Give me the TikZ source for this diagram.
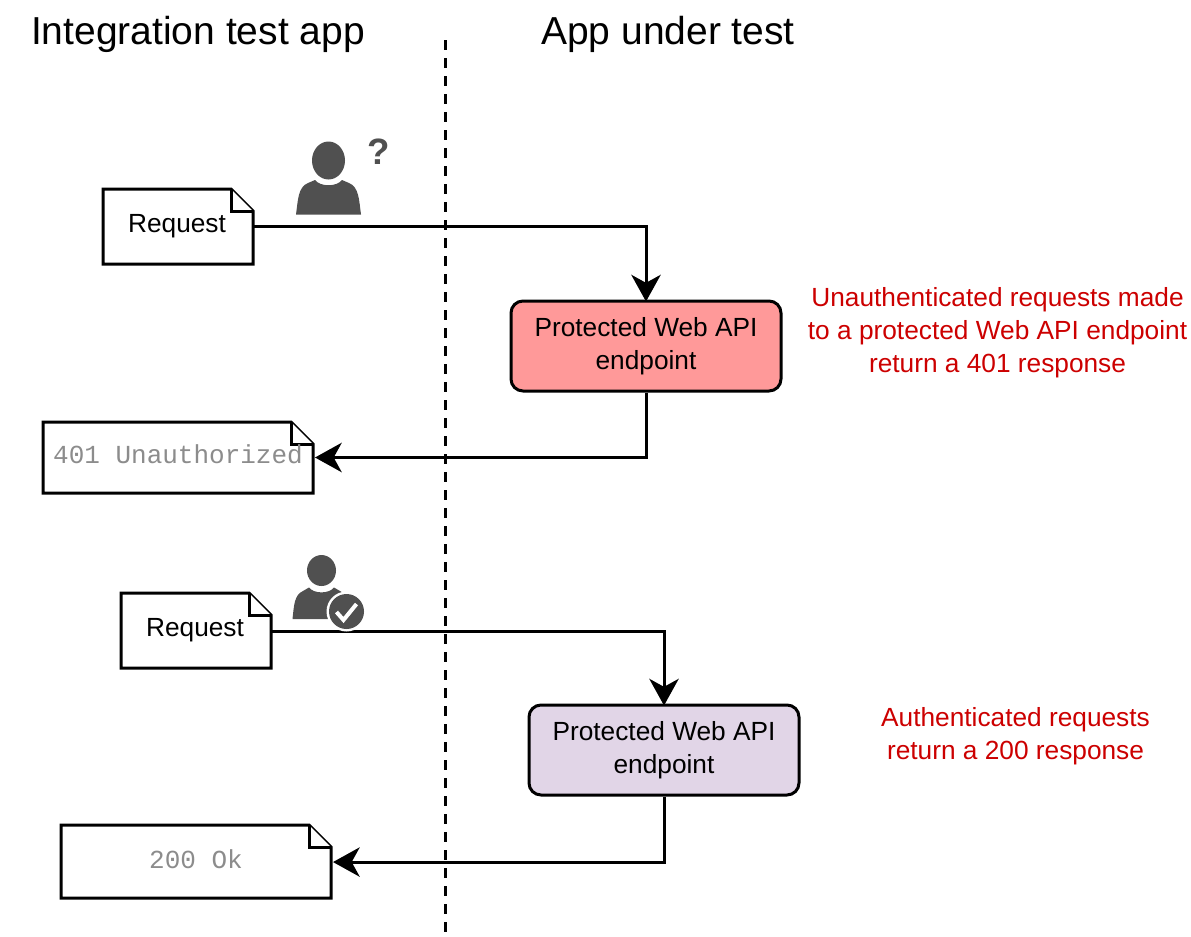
\documentclass[tikz,border=0pt]{standalone}
\usepackage{fontspec}
\setmainfont{Liberation Sans}
\newfontfamily\monof{Liberation Mono}
\usetikzlibrary{arrows.meta}
\definecolor{noteRed}{HTML}{CC0000}
\definecolor{iconGrey}{HTML}{505050}
\definecolor{monoGrey}{HTML}{8C8C8C}
\definecolor{pinkFill}{HTML}{FF9999}
\definecolor{lilacFill}{HTML}{E1D5E7}
\tikzset{
  x=0.75pt,y=-0.75pt,
  txt/.style={font=\fontsize{19.7}{24.75}\selectfont,align=center,inner sep=0pt,text=black},
  heading/.style={font=\fontsize{29.25}{34}\selectfont,inner sep=0pt,text=black},
  note/.style={font=\fontsize{19.7}{24.75}\selectfont,align=center,inner sep=0pt,text=noteRed},
  mono/.style={font=\monof\fontsize{19.5}{24.75}\selectfont,text=monoGrey},
  foldline/.style={draw=black,line width=2.25pt,line join=miter,fill=white},
  endpoint/.style={rectangle,draw=black,line width=2.25pt,rounded corners=9pt,
     minimum width=202.5pt,minimum height=67.5pt,inner sep=0pt,
     font=\fontsize{19.7}{24.75}\selectfont,align=center},
  conn/.style={draw=black,line width=2.25pt,shorten >=-1.5pt,-{Stealth[length=20pt,width=22pt,inset=6pt]}},
  connback/.style={conn,shorten >=1.5pt},
  divider/.style={draw=black,line width=2.25pt,dash pattern=on 7.5pt off 6pt},
}
\newcommand{\docshape}[5]{%
  % left top right bottom name
  \draw[foldline] (#1,#2) -- (#3-22,#2) -- (#3,#2+22) -- (#3,#4) -- (#1,#4) -- cycle;
  \draw[foldline] (#3-22,#2) -- (#3-22,#2+22) -- (#3,#2+22);
  \coordinate (#5) at ({(#1+#3)/2},{(#2+#4)/2});
  \coordinate (#5e) at (#3,{(#2+#4)/2});
}
\begin{document}
\begin{tikzpicture}
\useasboundingbox (0,0) rectangle (1191,936);
\node[heading] (h1) at (198,34) {Integration test app};
\node[heading] (h2) at (668,34) {App under test};
\coordinate (divtop) at (445,40);
\coordinate (divbot) at (445,936);
\draw[divider] (divtop) -- (divbot);

\docshape{103}{189}{253}{264}{reqa}
\docshape{43}{422}{313}{493}{resa}
\docshape{121}{593}{271}{668}{reqb}
\docshape{61}{825}{331}{898}{resb}
\node[txt] (reqatxt) at (177,226) {Request};
\node[mono] (resatxt) at (178,454.5) {401 Unauthorized};
\node[txt] (reqbtxt) at (195,630) {Request};
\node[mono] (resbtxt) at (196,859) {200 Ok};

\node[endpoint,fill=pinkFill] (epa) at (646,346) {Protected Web API\\endpoint};
\node[endpoint,fill=lilacFill] (epb) at (664,750) {Protected Web API\\endpoint};

\draw[conn] (reqae) -| (epa.north);
\draw[connback] (epa.south) |- (resae);
\draw[conn] ([yshift=-0.4pt]reqbe) -| (epb.north);
\draw[connback] (epb.south) |- ([yshift=-0.4pt]resbe);

\node[note] (noa) at (997.5,333) {Unauthenticated requests made\\to a protected Web API endpoint\\return a 401 response};
\node[note] (nob) at (1015.5,736.5) {Authenticated requests\\return a 200 response};

% person with question mark
\fill[iconGrey] (328.5,160.5) ellipse [x radius=16.5,y radius=19];
\fill[iconGrey] (296,214.5) .. controls (298,200) and (298,187) .. (308,183)
  -- (315,180) .. controls (320,187) and (337,187) .. (342,180)
  -- (349,183) .. controls (359,187) and (359,200) .. (361,214.5) -- cycle;
\node[font=\bfseries\fontsize{27.5}{34}\selectfont,text=iconGrey,inner sep=0pt] (qm) at (378.5,152) {?};

% person with check badge
\fill[iconGrey] (321.5,570.5) ellipse [x radius=14.5,y radius=15.5];
\fill[iconGrey] (292.5,619) .. controls (294,606) and (294,595) .. (303,591)
  -- (309,587.5) .. controls (314,594) and (329,594) .. (334,587.5)
  -- (340,591) .. controls (349,595) and (349,606) .. (351,619) -- cycle;
\fill[white] (346.5,611.5) circle [radius=20];
\fill[iconGrey] (346.5,611.5) circle [radius=17.5];
\draw[white,line width=3pt] (336.5,612) -- (343.5,620) -- (356.5,604);
\end{tikzpicture}
\end{document}
